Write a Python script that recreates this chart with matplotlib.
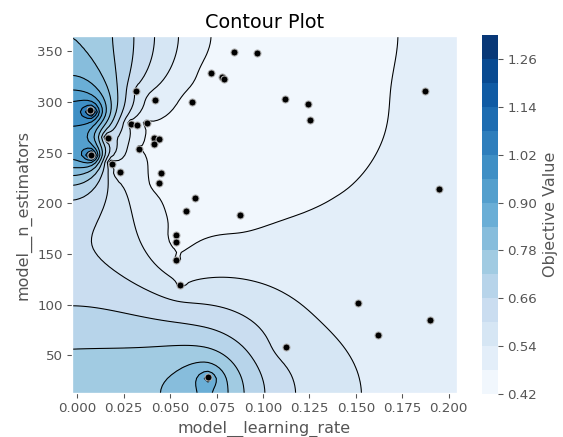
import numpy as np
import matplotlib.pyplot as plt

# trials: model__learning_rate, model__n_estimators, objective value
learning_rate = [0.0844, 0.0969, 0.0720, 0.0781, 0.0790, 0.0317, 0.0421, 0.0615,
                 0.0066, 0.0289, 0.0321, 0.0378, 0.0167, 0.0414, 0.0439, 0.0414,
                 0.0074, 0.0333, 0.0186, 0.0231, 0.0450, 0.0439, 0.0634, 0.0584,
                 0.0878, 0.0530, 0.0530, 0.0530, 0.0554, 0.0703, 0.1118, 0.1244,
                 0.1253, 0.1873, 0.1948, 0.1511, 0.1617, 0.1898, 0.1122]
n_estimators = [349, 348, 329, 325, 323, 311, 302, 300,
                292, 278, 277, 279, 265, 265, 264, 259,
                248, 254, 239, 231, 230, 220, 205, 193,
                189, 169, 162, 144, 119, 29, 303, 298,
                282, 311, 214, 102, 70, 85, 58]
objective = [0.44, 0.44, 0.44, 0.44, 0.44, 0.56, 0.48, 0.44,
             1.30, 0.50, 0.50, 0.46, 0.55, 0.45, 0.45, 0.45,
             1.26, 0.47, 0.48, 0.46, 0.45, 0.45, 0.44, 0.44,
             0.44, 0.45, 0.45, 0.46, 0.52, 0.98, 0.44, 0.44,
             0.45, 0.50, 0.50, 0.51, 0.52, 0.51, 0.54]

levels = np.linspace(0.42, 1.32, 16)
cbar_ticks = [0.42, 0.54, 0.66, 0.78, 0.90, 1.02, 1.14, 1.26]

plt.style.use("ggplot")


def axis_grid(values, n=100, pad=0.05):
    lo, hi = min(values), max(values)
    span = hi - lo
    return np.linspace(lo - span * pad, hi + span * pad, n)


def neighbours(k, n):
    iy, ix = divmod(k, n)
    out = []
    if ix + 1 < n:
        out.append(k + 1)
    if ix > 0:
        out.append(k - 1)
    if iy + 1 < n:
        out.append(k + n)
    if iy > 0:
        out.append(k - n)
    return out


def interpolate(xi, yi, xs, ys, zs, iters=250):
    # plotly-style fill of the empty grid cells (as optuna does it)
    n = len(xi)
    z = [None] * (n * n)
    for x, y, v in zip(xs, ys, zs):
        ix = int(np.argmin(np.abs(xi - x)))
        iy = int(np.argmin(np.abs(yi - y)))
        z[iy * n + ix] = v

    # find empties wave by wave, most neighbours first
    known = np.array([v is not None for v in z]).reshape(n, n)
    queue = []
    while not known.all():
        cnt = np.zeros((n, n), dtype=int)
        cnt[1:, :] += known[:-1, :]
        cnt[:-1, :] += known[1:, :]
        cnt[:, 1:] += known[:, :-1]
        cnt[:, :-1] += known[:, 1:]
        patch = (~known) & (cnt > 0)
        idx = np.flatnonzero(patch)
        c = cnt.ravel()[idx]
        queue.extend(int(k) for k in idx[np.argsort(-c, kind="stable")])
        known |= patch

    nbs = [neighbours(k, n) for k in queue]

    # first pass gives a starting value
    for k, ns in zip(queue, nbs):
        vals = [z[m] for m in ns if z[m] is not None]
        z[k] = sum(vals) / len(vals)

    delta = 1.0
    for _ in range(iters):
        if delta <= 1e-4:
            break
        overshoot = 0.5 - 0.25 * min(1.0, delta * 0.5)
        delta = 0.0
        for k, ns in zip(queue, nbs):
            vals = [z[m] for m in ns]
            cur = z[k]
            new = (1 + overshoot) * sum(vals) / len(vals) - overshoot * cur
            z[k] = new
            hi, lo = max(vals), min(vals)
            if hi > lo:
                d = abs(new - cur) / (hi - lo)
                if d > delta:
                    delta = d
    return np.array(z, dtype=float).reshape(n, n)


xi = axis_grid(learning_rate)
yi = axis_grid(n_estimators)
zi = interpolate(xi, yi, learning_rate, n_estimators, objective)

fig = plt.figure(figsize=(563 / 96, 437 / 96), dpi=96)
ax = fig.add_axes([0.128, 0.101, 0.683, 0.816])
cax = fig.add_axes([0.857, 0.099, 0.028, 0.820])

ax.contour(xi, yi, zi, levels=levels, colors="black", linewidths=0.8)
cs = ax.contourf(xi, yi, zi, levels=levels, cmap="Blues")
ax.scatter(learning_rate, n_estimators, marker="o", c="black", s=28,
           edgecolors="#b0b0b0", linewidths=0.8, zorder=3)
ax.set_xlim(xi[0], xi[-1])
ax.set_ylim(yi[0], yi[-1])
ax.set_title("Contour Plot")
ax.set_xlabel("model__learning_rate")
ax.set_ylabel("model__n_estimators")

cb = fig.colorbar(cs, cax=cax)
cb.set_ticks(cbar_ticks)
cb.set_label("Objective Value", color="#555555", fontsize="large")
cb.outline.set_visible(False)

fig.savefig("out.png", dpi=96)
